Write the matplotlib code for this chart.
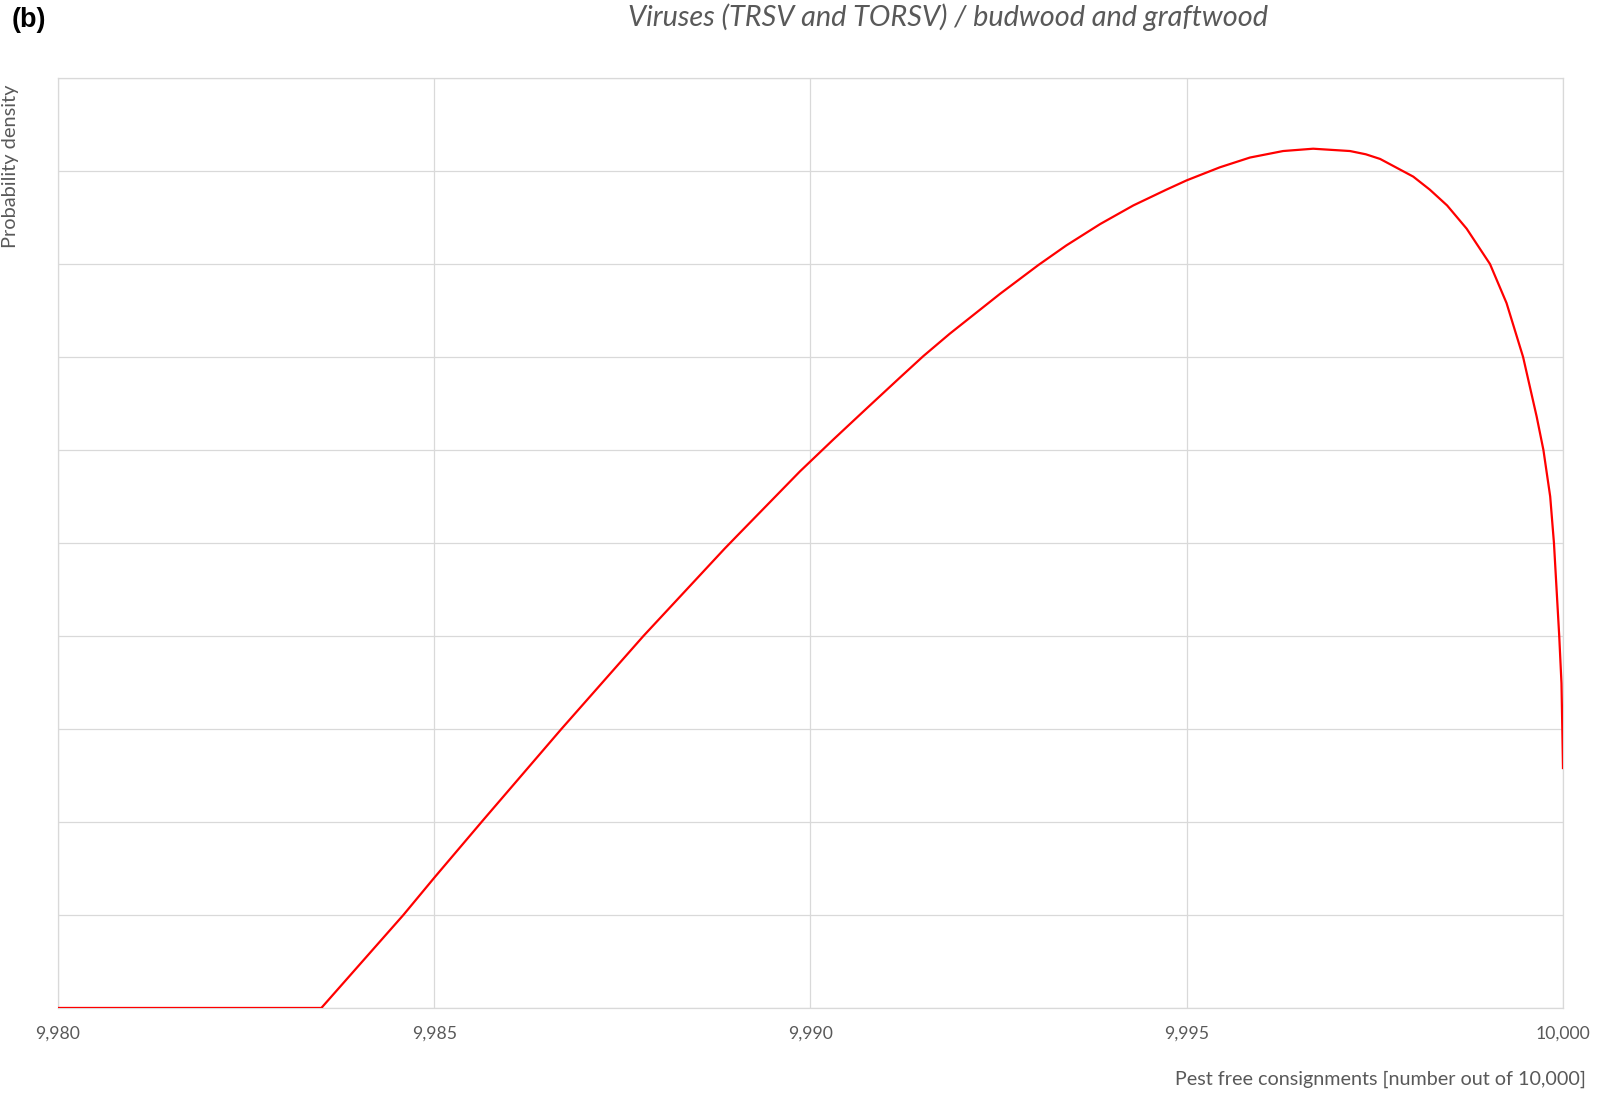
import matplotlib
matplotlib.use("Agg")
import matplotlib.pyplot as plt

# values (density in arbitrary grid units)
pest_free = [9980.0, 9983.5, 9984.59, 9985.0, 9985.65, 9986.69, 9987.78, 9988.86,
             9989.04, 9989.86, 9990.30, 9990.75, 9991.19, 9991.50, 9991.85, 9992.52,
             9993.03, 9993.40, 9993.85, 9994.29, 9994.73, 9995.0, 9995.44, 9995.84,
             9996.28, 9996.68, 9997.17, 9997.38, 9997.57, 9998.01, 9998.23, 9998.46,
             9998.72, 9999.03, 9999.25, 9999.47, 9999.65, 9999.74, 9999.83, 9999.88,
             9999.95, 9999.98, 9999.99, 10000.0]
density = [0.0, 0.0, 1.0, 1.40, 2.02, 3.0, 4.0, 4.94,
           5.09, 5.77, 6.11, 6.45, 6.78, 7.01, 7.25, 7.68,
           7.99, 8.20, 8.43, 8.63, 8.80, 8.90, 9.04, 9.145,
           9.215, 9.24, 9.215, 9.18, 9.13, 8.94, 8.80, 8.63,
           8.38, 8.0, 7.58, 7.0, 6.36, 6.0, 5.50, 5.0,
           4.0, 3.49, 3.05, 2.58]
xticks = [9980, 9985, 9990, 9995, 10000]
xtick_labels = ["9,980", "9,985", "9,990", "9,995", "10,000"]

grey = "#595959"
gridc = "#d9d9d9"

fig = plt.figure(figsize=(15.97, 10.93), dpi=100)
ax = fig.add_axes([0.0363, 0.0778, 0.9424, 0.8508])

ax.plot(pest_free, density, color="#ff0000", lw=1.6, solid_joinstyle="round", zorder=3)

ax.set_xlim(9980, 10000)
ax.set_ylim(0, 10)
ax.set_xticks(xticks)
ax.set_xticklabels(xtick_labels, fontfamily="Lato", fontsize=12.7, color=grey)
ax.set_yticks(range(0, 11))
ax.set_yticklabels([])
ax.tick_params(length=0, pad=13)
ax.grid(True, color=gridc, lw=0.9)
ax.set_axisbelow(True)
for s in ax.spines.values():
    s.set_color(gridc)
    s.set_linewidth(0.9)

fig.text(0.5936, 0.9844, "Viruses (TRSV and TORSV) / budwood and graftwood",
         ha="center", va="center", fontfamily="Lato", fontstyle="italic",
         fontsize=20.8, color=grey)
fig.text(0.0075, 0.9817, "(b)", ha="left", va="center",
         fontfamily="Liberation Sans", fontweight="bold", fontsize=19.5, color="black")
fig.text(0.0063, 0.9222, "Probability density", rotation=90, ha="center", va="top",
         fontfamily="Lato", fontsize=14.4, color=grey)
fig.text(0.9931, 0.0128, "Pest free consignments [number out of 10,000]",
         ha="right", va="center", fontfamily="Lato", fontsize=14.2, color=grey)

fig.savefig("out.png", dpi=100)
